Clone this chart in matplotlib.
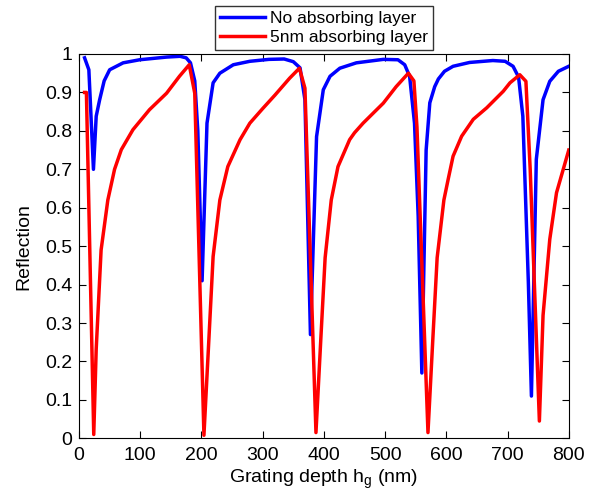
import numpy as np
import matplotlib
matplotlib.use("Agg")
import matplotlib.pyplot as plt

plt.rcParams["font.family"] = ["Liberation Sans", "DejaVu Sans"]
plt.rcParams["mathtext.default"] = "regular"

# no absorbing layer
depth_blue = [9, 16, 23.5, 28, 33.5, 41, 50, 72, 99, 143, 165, 175, 182, 189, 194, 201,
              209, 219, 230, 252, 279, 310, 335, 350, 361, 369, 378,
              388, 399, 410, 426, 453, 497, 521, 532, 540, 548, 554, 560,
              567, 573, 581, 587, 597, 611, 638, 676, 696, 709, 718, 725, 734, 739,
              747, 758, 769, 783, 800]
refl_blue = [0.99, 0.959, 0.70, 0.838, 0.88, 0.93, 0.959, 0.977, 0.985, 0.992, 0.994, 0.99, 0.977, 0.93, 0.80, 0.41,
             0.82, 0.925, 0.95, 0.972, 0.981, 0.986, 0.987, 0.98, 0.964, 0.881, 0.27,
             0.785, 0.907, 0.942, 0.963, 0.977, 0.986, 0.985, 0.972, 0.942, 0.82, 0.578, 0.17,
             0.75, 0.873, 0.915, 0.935, 0.955, 0.968, 0.978, 0.983, 0.981, 0.968, 0.94, 0.838, 0.405, 0.11,
             0.726, 0.881, 0.929, 0.955, 0.968]

# 5nm absorbing layer
depth_red = [9, 12, 24, 28, 36, 47, 58, 69, 88, 115, 143, 164, 180, 189, 204,
             212, 219, 230, 243, 263, 279, 300, 320, 344, 360, 369, 387,
             395, 402, 412, 423, 442, 450, 464, 483, 497, 518, 538, 547, 552, 570,
             578, 585, 596, 603, 611, 625, 644, 666, 693, 704, 720, 730, 737, 752,
             758, 769, 780, 791, 800]
refl_red = [0.90, 0.90, 0.01, 0.232, 0.49, 0.62, 0.70, 0.751, 0.803, 0.855, 0.898, 0.942, 0.972, 0.898, 0.008,
            0.255, 0.473, 0.62, 0.707, 0.777, 0.82, 0.858, 0.893, 0.937, 0.963, 0.911, 0.015,
            0.26, 0.47, 0.62, 0.707, 0.777, 0.795, 0.82, 0.85, 0.872, 0.915, 0.95, 0.93, 0.81, 0.015,
            0.26, 0.47, 0.62, 0.674, 0.734, 0.786, 0.83, 0.86, 0.903, 0.925, 0.946, 0.929, 0.70, 0.045,
            0.32, 0.518, 0.639, 0.70, 0.75]

labels = ["No absorbing layer", "5nm absorbing layer"]

fig = plt.figure(figsize=(5.9, 4.94), dpi=100)
ax = fig.add_axes([0.134, 0.1127, 0.830, 0.778])
ax.plot(depth_blue, refl_blue, color="#0000ff", lw=2.5, label=labels[0])
ax.plot(depth_red, refl_red, color="#ff0000", lw=2.5, label=labels[1])

ax.set_xlim(0, 800); ax.set_ylim(0, 1)
ax.set_xticks(np.arange(0, 801, 100))
ax.set_yticks(np.arange(0, 1.01, 0.1))
ax.set_yticklabels(["0", "0.1", "0.2", "0.3", "0.4", "0.5", "0.6", "0.7", "0.8", "0.9", "1"])
ax.tick_params(direction="in", top=True, right=True, labelsize=14, length=5, width=0.8)
ax.tick_params(axis="x", pad=6)
ax.tick_params(axis="y", pad=5)
for s in ax.spines.values():
    s.set_linewidth(0.8)
ax.set_xlabel("Grating depth h$_g$ (nm)", fontsize=14, labelpad=3)
ax.set_ylabel("Reflection", fontsize=14, labelpad=9)

leg = fig.legend(loc="upper center", bbox_to_anchor=(324 / 590, 1 - 6 / 494), fontsize=12.5,
                 frameon=True, fancybox=False, edgecolor="black", handlelength=2.6,
                 handletextpad=0.3, labelspacing=0.2, borderpad=0.3, borderaxespad=0)
leg.get_frame().set_linewidth(1.0)

fig.savefig("out.png", dpi=100)
